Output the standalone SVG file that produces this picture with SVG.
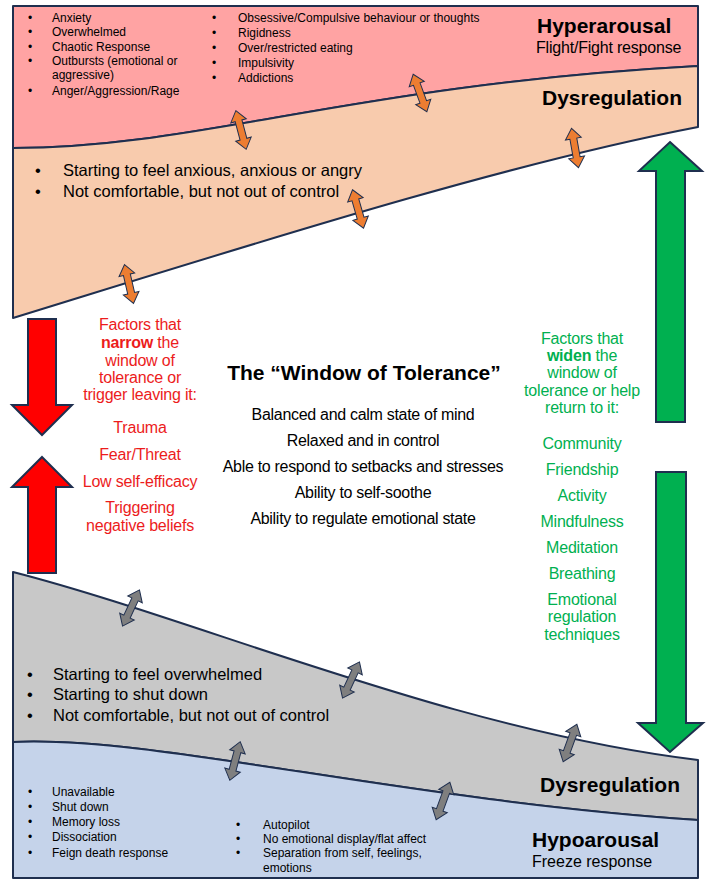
<svg xmlns="http://www.w3.org/2000/svg" width="716" height="889" viewBox="0 0 716 889">
<style>
text{font-family:"Liberation Sans",Arial,sans-serif;fill:#000}
.reg{stroke:#1f2f4f;stroke-width:2;stroke-linejoin:round}
.s11{font-size:12px}
.s15{font-size:16.5px}
.sub{font-size:16px;letter-spacing:-0.2px}
.hd{font-size:21px;font-weight:bold}
.red{fill:#ec1c1c;font-size:16px;text-anchor:middle;letter-spacing:-0.2px}
.grn{fill:#00b050;font-size:16px;text-anchor:middle;letter-spacing:-0.2px}
.mid{font-size:16px;text-anchor:middle;letter-spacing:-0.3px}
.big{stroke:#1f2f4f;stroke-width:2;stroke-linejoin:miter}
.dbl{stroke:#1f2f4f;stroke-width:1}
</style>
<defs>
<path id="dbl" d="M0,-20 L8,-9.5 L3.5,-9.5 L3.5,9.5 L8,9.5 L0,20 L-8,9.5 L-3.5,9.5 L-3.5,-9.5 L-8,-9.5 Z"/>
</defs>
<rect width="716" height="889" fill="#fff"/>

<g id="hyperarousal">
<path class="reg" fill="#ffa3a3" d="M13,6 L698,6 L698,66 C350,85 200,148 13,148 Z"/>
<g class="s11">
<text x="28" y="22">•</text><text x="52" y="22">Anxiety</text>
<text x="28" y="36">•</text><text x="52" y="36">Overwhelmed</text>
<text x="28" y="51">•</text><text x="52" y="51">Chaotic Response</text>
<text x="28" y="65">•</text><text x="52" y="65">Outbursts (emotional or</text>
<text x="52" y="79">aggressive)</text>
<text x="28" y="95">•</text><text x="52" y="95">Anger/Aggression/Rage</text>
<text x="212" y="22">•</text><text x="238" y="22">Obsessive/Compulsive behaviour or thoughts</text>
<text x="212" y="37">•</text><text x="238" y="37">Rigidness</text>
<text x="212" y="52">•</text><text x="238" y="52">Over/restricted eating</text>
<text x="212" y="67">•</text><text x="238" y="67">Impulsivity</text>
<text x="212" y="82">•</text><text x="238" y="82">Addictions</text>
</g>
<text class="hd" x="537" y="33">Hyperarousal</text>
<text class="sub" x="536" y="53">Flight/Fight response</text>
</g>

<g id="dysregulation-top">
<path class="reg" fill="#f8cbad" d="M13,148 C200,148 350,85 698,66 L698,127 C500,165 250,245 13,318 Z"/>
<text class="hd" x="542" y="105">Dysregulation</text>
<text class="s15" x="35" y="176">•</text><text class="s15" x="63" y="176">Starting to feel anxious, anxious or angry</text>
<text class="s15" x="35" y="197">•</text><text class="s15" x="63" y="197">Not comfortable, but not out of control</text>
</g>

<g id="dysregulation-bottom">
<path class="reg" fill="#c8c8c8" d="M13,572 C200,620 450,730 698,760 L698,820 C400,800 150,735 13,742 Z"/>
<text class="s15" x="27" y="680">•</text><text class="s15" x="53" y="680">Starting to feel overwhelmed</text>
<text class="s15" x="27" y="700">•</text><text class="s15" x="53" y="700">Starting to shut down</text>
<text class="s15" x="27" y="721">•</text><text class="s15" x="53" y="721">Not comfortable, but not out of control</text>
<text class="hd" x="540" y="792">Dysregulation</text>
</g>

<g id="hypoarousal">
<path class="reg" fill="#c5d3ea" d="M13,742 C150,735 400,800 698,820 L698,878 L13,878 Z"/>
<g class="s11">
<text x="28" y="796">•</text><text x="52" y="796">Unavailable</text>
<text x="28" y="811">•</text><text x="52" y="811">Shut down</text>
<text x="28" y="826">•</text><text x="52" y="826">Memory loss</text>
<text x="28" y="841">•</text><text x="52" y="841">Dissociation</text>
<text x="28" y="857">•</text><text x="52" y="857">Feign death response</text>
<text x="236" y="829">•</text><text x="263" y="829">Autopilot</text>
<text x="236" y="843">•</text><text x="263" y="843">No emotional display/flat affect</text>
<text x="236" y="857">•</text><text x="263" y="857">Separation from self, feelings,</text>
<text x="263" y="872">emotions</text>
</g>
<text class="hd" x="532" y="847">Hypoarousal</text>
<text x="532" y="867" font-size="16">Freeze response</text>
</g>

<g id="window-of-tolerance">
<text x="364" y="380" font-size="21" font-weight="bold" text-anchor="middle">The “Window of Tolerance”</text>
<text class="mid" x="363" y="420">Balanced and calm state of mind</text>
<text class="mid" x="363" y="446">Relaxed and in control</text>
<text class="mid" x="363" y="472">Able to respond to setbacks and stresses</text>
<text class="mid" x="363" y="498">Ability to self-soothe</text>
<text class="mid" x="363" y="524">Ability to regulate emotional state</text>
</g>

<g id="narrow-factors">
<text class="red" x="140" y="330">Factors that</text>
<text class="red" x="140" y="348"><tspan font-weight="bold">narrow</tspan> the</text>
<text class="red" x="140" y="366">window of</text>
<text class="red" x="140" y="383">tolerance or</text>
<text class="red" x="140" y="400">trigger leaving it:</text>
<text class="red" x="140" y="433">Trauma</text>
<text class="red" x="140" y="460">Fear/Threat</text>
<text class="red" x="140" y="487">Low self-efficacy</text>
<text class="red" x="140" y="513">Triggering</text>
<text class="red" x="140" y="531">negative beliefs</text>
</g>

<g id="widen-factors">
<text class="grn" x="582" y="344">Factors that</text>
<text class="grn" x="582" y="361"><tspan font-weight="bold">widen</tspan> the</text>
<text class="grn" x="582" y="378">window of</text>
<text class="grn" x="582" y="396">tolerance or help</text>
<text class="grn" x="582" y="413">return to it:</text>
<text class="grn" x="582" y="449">Community</text>
<text class="grn" x="582" y="475">Friendship</text>
<text class="grn" x="582" y="501">Activity</text>
<text class="grn" x="582" y="527">Mindfulness</text>
<text class="grn" x="582" y="553">Meditation</text>
<text class="grn" x="582" y="579">Breathing</text>
<text class="grn" x="582" y="605">Emotional</text>
<text class="grn" x="582" y="622">regulation</text>
<text class="grn" x="582" y="640">techniques</text>
</g>

<g id="connectors">
<path class="big" fill="#ff0000" d="M28,319 L56,319 L56,405 L72,405 L42,435 L12,405 L28,405 Z"/>
<path class="big" fill="#ff0000" d="M42,457 L72,487 L56,487 L56,573 L28,573 L28,487 L12,487 Z"/>
<path class="big" fill="#00b050" d="M670,142 L702,171 L685,171 L685,422 L656,422 L656,171 L639,171 Z"/>
<path class="big" fill="#00b050" d="M656,472 L686,472 L686,723 L703,723 L670,752 L638,723 L656,723 Z"/>
<g fill="#ed7d31" class="dbl">
<use href="#dbl" transform="translate(241,130) rotate(-15)"/>
<use href="#dbl" transform="translate(420,93) rotate(-20)"/>
<use href="#dbl" transform="translate(575,148) rotate(-10)"/>
<use href="#dbl" transform="translate(358,209) rotate(-16)"/>
<use href="#dbl" transform="translate(129,284) rotate(-13)"/>
</g>
<g fill="#7f7f7f" class="dbl">
<use href="#dbl" transform="translate(131,608) rotate(25)"/>
<use href="#dbl" transform="translate(351,680) rotate(25)"/>
<use href="#dbl" transform="translate(235,761) rotate(15)"/>
<use href="#dbl" transform="translate(443,801) rotate(20)"/>
<use href="#dbl" transform="translate(570,743) rotate(20)"/>
</g>
</g>
</svg>
